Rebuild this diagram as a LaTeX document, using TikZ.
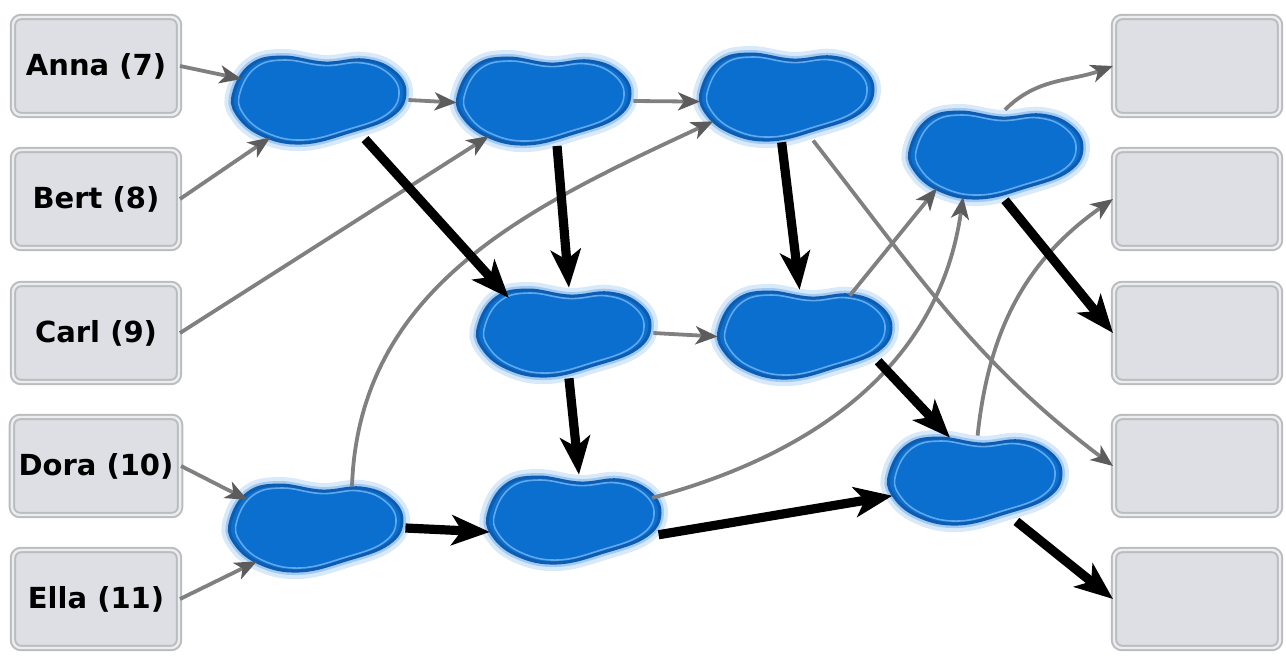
\documentclass[tikz,border=0pt]{standalone}
\usepackage{fontspec}
\setmainfont{DejaVu Sans}
\usetikzlibrary{arrows.meta,shapes.geometric}
\definecolor{boxfill}{HTML}{DDDFE5}
\definecolor{boxedge}{HTML}{BBBCC0}
\definecolor{boxrim}{HTML}{ECEDEF}
\definecolor{blobfill}{HTML}{0A6FCF}
\definecolor{blobedge}{HTML}{0D5CB0}
\definecolor{blobrim}{HTML}{62A8EC}
\definecolor{blobglow}{HTML}{7FB6EE}
\definecolor{wire}{HTML}{808080}
\definecolor{wiretip}{HTML}{5C5C5C}
\newcommand{\blobplot}{plot[smooth cycle,tension=.7] coordinates {(-86,-8) (-69,-35) (-38,-43) (5,-37) (44,-40) (73,-29) (85,-7) (71,16) (29,32) (-18,43) (-58,35) (-83,14)}}
\tikzset{
  blob/.pic={
    \draw[blobglow,line width=8pt,opacity=.3] \blobplot;
    \draw[blobglow,line width=4pt,opacity=.6] \blobplot;
    \draw[blobedge,fill=blobfill,line width=1.5pt] \blobplot;
    \draw[blobrim,line width=.8pt,scale=.93] \blobplot;
  },
  blobnode/.style={ellipse,minimum width=88pt,minimum height=45pt,inner sep=0pt},
  namebox/.style={draw=boxedge,line width=1pt,double=boxrim,double distance=1.2pt,fill=boxfill,rounded corners=4pt,
    minimum width=83pt,minimum height=49pt,font=\fontsize{14.5}{17}\selectfont\bfseries},
  wireline/.style={wire,line width=1.9pt,-{Stealth[length=11pt,width=9pt,inset=3pt,color=wiretip]}},
  swapline/.style={black,line width=4.6pt,-{Stealth[length=19pt,width=15pt,inset=5pt]}},
}
\begin{document}
\begin{tikzpicture}[x=0.5pt,y=-0.5pt]
  \useasboundingbox (0,0) rectangle (1286,658);
  \node[namebox] (anna) at (96,66) {Anna (7)};
  \node[namebox] (bert) at (96,199) {Bert (8)};
  \node[namebox] (carl) at (96,333) {Carl (9)};
  \node[namebox] (dora) at (96,466) {Dora (10)};
  \node[namebox] (ella) at (96,599) {Ella (11)};
  \node[namebox] (r1) at (1197,66) {};
  \node[namebox] (r2) at (1197,199) {};
  \node[namebox] (r3) at (1197,333) {};
  \node[namebox] (r4) at (1197,466) {};
  \node[namebox] (r5) at (1197,599) {};
  \pic at (320,100) {blob};  \node[blobnode] (b1) at (320,100) {};
  \pic at (545,101) {blob};  \node[blobnode] (b2) at (545,101) {};
  \pic at (788,97) {blob};   \node[blobnode] (b3) at (788,97) {};
  \pic at (997,155) {blob};  \node[blobnode] (b4) at (997,155) {};
  \pic at (565,333) {blob};  \node[blobnode] (b5) at (565,333) {};
  \pic at (806,335) {blob};  \node[blobnode] (b6) at (806,335) {};
  \pic at (317,528) {blob};  \node[blobnode] (b7) at (317,528) {};
  \pic at (575,520) {blob};  \node[blobnode] (b8) at (575,520) {};
  \pic at (976,481) {blob};  \node[blobnode] (b9) at (976,481) {};
  \draw[wireline] (anna.east) -- (b1.165);
  \draw[wireline] (bert.east) -- (b1.217);
  \draw[wireline] (carl.east) -- (b2.212);
  \draw[wireline] (dora.east) -- (b7.158);
  \draw[wireline] (ella.east) -- (b7.209);
  \draw[wireline] (b1.east) -- (b2.181);
  \draw[wireline] (b2.east) -- (b3.183);
  \draw[wireline] (b5.east) -- (b6.181);
  \draw[wireline] (b7.50) to[out=88,in=205] (b3.198);
  \draw[wireline] (b3.-60) to[out=-52,in=143] (r4.west);
  \draw[wireline] (b4.80) to[out=45,in=200] (r1.west);
  \draw[wireline] (b6.42) -- (b4.209);
  \draw[wireline] (b8.16) to[out=15,in=262] (b4.231);
  \draw[wireline] (b9.88) to[out=84,in=215] (r2.west);
  \draw[swapline] (b1.-41) -- (b5.148);
  \draw[swapline] (b2.-75) -- (b5.85);
  \draw[swapline] (b3.-98) -- (b6.98);
  \draw[swapline] (b5.-85) -- (b8.85);
  \draw[swapline] (b7.east) -- (b8.188);
  \draw[swapline] (b8.-10) -- (b9.190);
  \draw[swapline] (b6.-20) -- (b9.121);
  \draw[swapline] (b4.-80) -- (r3.west);
  \draw[swapline] (b9.-45) -- (r5.west);
\end{tikzpicture}
\end{document}
